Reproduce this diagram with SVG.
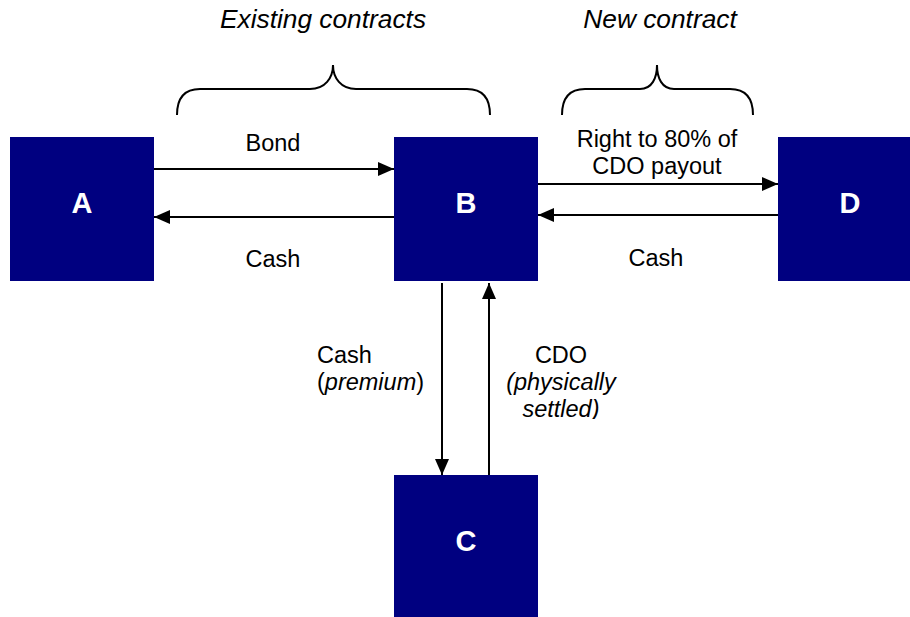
<svg xmlns="http://www.w3.org/2000/svg" width="910" height="617" viewBox="0 0 910 617">
<style>
.box{fill:#000080}
.nl{font-family:"Liberation Sans",Arial,sans-serif;font-weight:bold;font-size:29px;fill:#fff;text-anchor:middle}
.lbl{font-family:"Liberation Sans",Arial,sans-serif;font-size:23.5px;fill:#000}
.mid{text-anchor:middle}
.ttl{font-family:"Liberation Sans",Arial,sans-serif;font-size:26.3px;font-style:italic;fill:#000;text-anchor:middle}
.ln{stroke:#000;stroke-width:2;fill:none}
.br{stroke:#000;stroke-width:2;fill:none}
</style>
<defs>
<marker id="ah" markerUnits="userSpaceOnUse" markerWidth="16" markerHeight="14" refX="16" refY="7" orient="auto">
<path d="M0,0 L16,7 L0,14 z" fill="#000"/>
</marker>
<clipPath id="clipC"><rect x="490" y="330" width="160" height="89"/></clipPath>
</defs>
<rect width="910" height="617" fill="#fff"/>
<g id="titles">
<text class="ttl" x="323" y="28">Existing contracts</text>
<text class="ttl" x="660" y="28">New contract</text>
<path class="br" d="M177,115 C177,100 183,89 200,89 L310,89 C325,89 333,78 333,65 C333,78 341,89 356,89 L467,89 C484,89 490,100 490,115"/>
<path class="br" d="M562,115 C562,100 568,89 585,89 L640,89 C652,89 657,78 657,65 C657,78 662,89 674,89 L730,89 C747,89 753,100 753,115"/>
</g>
<g id="connectors">
<line class="ln" x1="154" y1="169" x2="394" y2="169" marker-end="url(#ah)"/>
<line class="ln" x1="394" y1="217" x2="154" y2="217" marker-end="url(#ah)"/>
<line class="ln" x1="538" y1="184" x2="778" y2="184" marker-end="url(#ah)"/>
<line class="ln" x1="778" y1="215" x2="538" y2="215" marker-end="url(#ah)"/>
<line class="ln" x1="442" y1="283" x2="442" y2="475" marker-end="url(#ah)"/>
<line class="ln" x1="489" y1="475" x2="489" y2="283" marker-end="url(#ah)"/>
<text class="lbl mid" x="273" y="151">Bond</text>
<text class="lbl mid" x="273" y="267">Cash</text>
<text class="lbl mid" x="657" y="147">Right to 80% of</text>
<text class="lbl mid" x="657" y="174">CDO payout</text>
<text class="lbl mid" x="656" y="266">Cash</text>
<text class="lbl" x="317" y="363">Cash</text>
<text class="lbl" x="317" y="390">(<tspan font-style="italic">premium</tspan>)</text>
<g clip-path="url(#clipC)">
<text class="lbl mid" x="561" y="363">CDO</text>
<text class="lbl mid" x="561" y="390" font-style="italic">(physically</text>
<text class="lbl mid" x="561" y="417" font-style="italic">settled)</text>
</g>
</g>
<g id="node-A"><rect class="box" x="10" y="137" width="144" height="144"/><text class="nl" x="82" y="213">A</text></g>
<g id="node-B"><rect class="box" x="394" y="137" width="144" height="144"/><text class="nl" x="466" y="213">B</text></g>
<g id="node-D"><rect class="box" x="778" y="137" width="144" height="144"/><text class="nl" x="850" y="213">D</text></g>
<g id="node-C"><rect class="box" x="394" y="475" width="144" height="144"/><text class="nl" x="466" y="551">C</text></g>
</svg>
